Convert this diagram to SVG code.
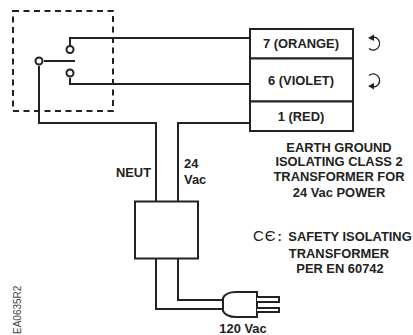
<svg xmlns="http://www.w3.org/2000/svg" width="413" height="335" viewBox="0 0 413 335">
<style>
.w{fill:none;stroke:#222;stroke-width:2}
.b{fill:#fff;stroke:#222;stroke-width:2}
.a{fill:none;stroke:#222;stroke-width:1.300}
.t{font-family:"Liberation Sans",Arial,sans-serif;font-weight:bold;font-size:12.900px;fill:#222;text-anchor:middle}
.l{text-anchor:start}
</style>
<rect width="413" height="335" fill="#fff"/>
<g id="connectors">
<path class="w" d="M70 45V38H250"/>
<path class="w" d="M70 78V84H250"/>
<path class="w" d="M39 66V123H156V201"/>
<path class="w" d="M250 123H178V201"/>
<path class="w" d="M44 61H75"/>
<path class="w" d="M156 258V309H223"/>
<path class="w" d="M178 258V300H223"/>
</g>
<g id="relay">
<rect x="13" y="11" width="100" height="100" fill="none" stroke="#222" stroke-width="2" stroke-dasharray="6 4.500"/>
<circle class="b" cx="70" cy="49.500" r="3.500"/>
<circle class="b" cx="70" cy="73" r="3.500"/>
<circle class="b" cx="39" cy="61" r="3.500"/>
</g>
<g id="terminal-7"><rect class="b" x="250" y="29" width="103" height="29.500"/><text class="t" x="301" y="48">7 (ORANGE)</text></g>
<g id="terminal-6"><rect class="b" x="250" y="58.500" width="103" height="43"/><text class="t" x="301" y="85">6 (VIOLET)</text></g>
<g id="terminal-1"><rect class="b" x="250" y="101.500" width="103" height="29.500"/><text class="t" x="301" y="120.500">1 (RED)</text></g>
<g id="rotation-ccw"><path class="a" d="M369 48.500A6.500 6.500 0 1 0 373 37"/><path d="M368 38L374 34.500L374 41Z" fill="#222"/></g>
<g id="rotation-cw"><path class="a" d="M369 75.500A6.500 6.500 0 1 1 373 87"/><path d="M368 86L374 89.500L374 83Z" fill="#222"/></g>
<g id="transformer"><rect class="b" x="135" y="201.500" width="63" height="57"/></g>
<g id="plug">
<path class="b" d="M223 298Q226 292 236 292H257V317H236Q226 317 223 311Z"/>
<path class="b" d="M257 297H279V302H257M257 308H279V312H257"/>
</g>
<g id="labels">
<text class="t" x="133.500" y="177">NEUT</text>
<text class="t l" x="184" y="168">24</text>
<text class="t l" x="184" y="184">Vac</text>
<text class="t" x="339" y="152">EARTH GROUND</text>
<text class="t" x="339" y="166">ISOLATING CLASS 2</text>
<text class="t" x="339" y="181">TRANSFORMER FOR</text>
<text class="t" x="339" y="197">24 Vac POWER</text>
<text x="253" y="241" font-family="'Liberation Sans',sans-serif" font-size="15" letter-spacing="0.800" fill="#222">CЄ</text>
<text class="t l" x="277.500" y="241">:</text>
<text class="t" x="350" y="241">SAFETY ISOLATING</text>
<text class="t" x="339" y="258">TRANSFORMER</text>
<text class="t" x="340" y="273">PER EN 60742</text>
<text class="t" x="243" y="333">120 Vac</text>
<text transform="translate(21 334) rotate(-90)" font-family="'Liberation Sans',sans-serif" font-size="10" fill="#444">EA0635R2</text>
</g>
</svg>
